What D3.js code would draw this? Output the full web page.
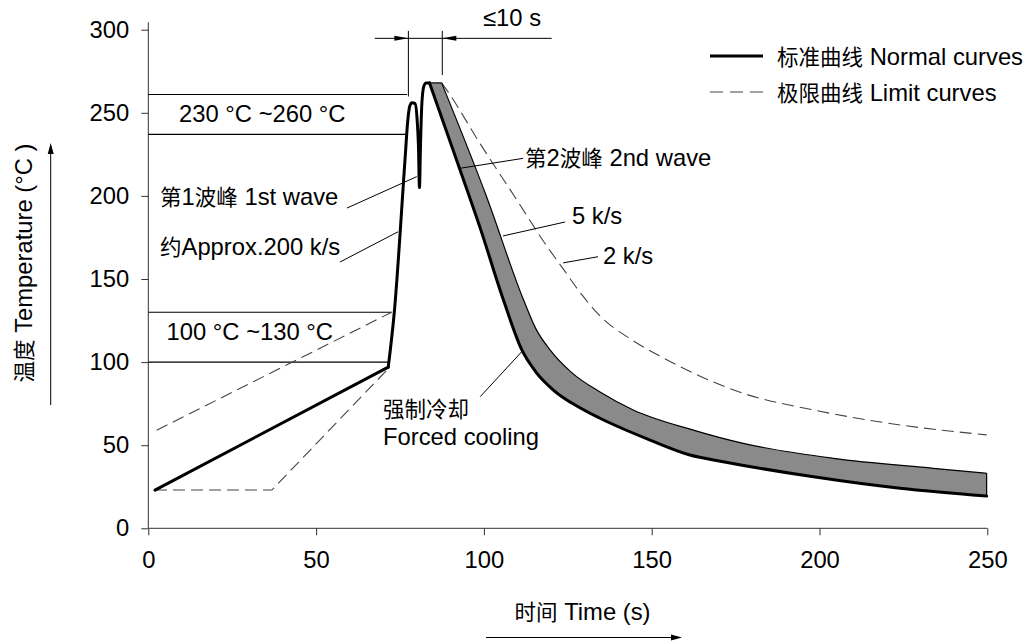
<!DOCTYPE html>
<html><head><meta charset="utf-8">
<script src="https://cdn.jsdelivr.net/npm/d3@7/dist/d3.min.js"></script>
<style>
html,body{margin:0;padding:0;background:#fff;}
svg text{font-family:"Liberation Sans",Arial,"Noto Sans CJK SC",sans-serif;fill:#000;}
</style></head>
<body><svg id="c" width="1035" height="643"></svg>
<script>
// ---- data (time s, temperature °C) ----
const xTicks = [0, 50, 100, 150, 200, 250];
const yTicks = [0, 50, 100, 150, 200, 250, 300];
const normalHeat = [[2, 23], [71.5, 97]];
const normalWave = [[71.5, 97], [73.3, 130], [76.5, 222], [77.3, 245], [77.9, 254], [78.6, 256], [79.5, 255.5],
  [80.1, 246], [80.5, 230], [80.8, 205], [81.1, 230], [81.5, 255], [82.1, 266], [82.8, 268], [83.8, 268]];
const normalCool = [[83.8, 268], [92.9, 215.6], [99, 180], [105.8, 137.5], [111.3, 107.3], [115.5, 94], [120.7, 83.2],
  [128.6, 72.5], [134.6, 66.2], [149.5, 53.1], [161.4, 44.1], [171.3, 40.1], [198.2, 31], [224, 24.1], [249.8, 19.4]];
const band5ks = [[87.4, 268], [100.8, 199.5], [111.8, 137.5], [115.5, 120], [119.7, 107.4], [126, 94], [134.6, 82],
  [144.5, 71.2], [162.4, 59.1], [177.3, 51.1], [204.1, 42.1], [233.9, 36.1], [249.8, 33.1]];
const limitHeatUpper = [[2.5, 59], [72.5, 130]];
const limitHeatLower = [[2, 23], [36.8, 23], [71, 95]];
const limitCool2ks = [[87.4, 268], [88.9, 263.8], [99, 231], [109.8, 197.6], [118, 172], [124, 155], [129, 141],
  [135, 127], [144, 113.5], [153, 103], [164.4, 91.5], [177.3, 81.2], [198.2, 71.2], [224, 62.2], [249.8, 56.2]];
const rangeLines = [[261, 77.1], [237, 77.1], [130, 72.5], [100, 71.5]];
const rangeLabels = ["230 °C ~260 °C", "100 °C ~130 °C"];
const legendLabels = ["标准曲线 Normal curves", "极限曲线 Limit curves"];

// ---- scales ----
const svg = d3.select("#c");
const x = d3.scaleLinear().domain([0, 250]).range([148.3, 987.3]);
const y = d3.scaleLinear().domain([0, 300]).range([528.3, 29.7]);
const FS = 23.8, FSC = 21.5;

const smooth = d3.line().x(d => x(d[0])).y(d => y(d[1])).curve(d3.curveMonotoneX);
const lin = d3.line().x(d => x(d[0])).y(d => y(d[1]));

// band fill
svg.append("path")
  .attr("d", smooth(normalCool) + "L" + x(249.8) + "," + y(33.1) +
    smooth(band5ks.slice().reverse()).replace(/^M/, "L") + "Z")
  .attr("fill", "#8a8a8a").attr("stroke", "none");

// axes
const gx = svg.append("g").attr("transform", `translate(0,${y(0)})`)
  .call(d3.axisBottom(x).tickValues(xTicks).tickSize(7).tickSizeOuter(0).tickPadding(16));
const gy = svg.append("g").attr("transform", `translate(${x(0)},0)`)
  .call(d3.axisLeft(y).tickValues(yTicks).tickSize(7).tickSizeOuter(0).tickPadding(12));
[gx, gy].forEach(g => {
  g.select(".domain").remove();
  g.selectAll("line").attr("stroke", "#333");
  g.selectAll("text").attr("font-size", FS).attr("fill", "#000")
    .style("font-family", '"Liberation Sans",Arial,sans-serif');
});
svg.append("line").attr("x1", x(0)).attr("x2", x(250)).attr("y1", y(0)).attr("y2", y(0)).attr("stroke", "#333");
svg.append("line").attr("x1", x(0)).attr("x2", x(0)).attr("y1", y(0)).attr("y2", y(304.5)).attr("stroke", "#333");

// range lines
svg.selectAll(".rl").data(rangeLines).enter().append("line")
  .attr("x1", x(0)).attr("x2", d => x(d[1])).attr("y1", d => y(d[0])).attr("y2", d => y(d[0]))
  .attr("stroke", "#000").attr("stroke-width", 1.2);

// dashed limit curves
const dash = "12,6";
[[limitHeatUpper, lin], [limitHeatLower, lin], [limitCool2ks, smooth]].forEach(([d, g]) => {
  svg.append("path").attr("d", g(d)).attr("fill", "none").attr("stroke", "#444")
    .attr("stroke-width", 1.1).attr("stroke-dasharray", dash);
});

// band thin edge
svg.append("path").attr("d", smooth(band5ks)).attr("fill", "none").attr("stroke", "#000").attr("stroke-width", 1.2);
svg.append("line").attr("x1", x(249.8)).attr("x2", x(249.8)).attr("y1", y(33.1)).attr("y2", y(19.4))
  .attr("stroke", "#000").attr("stroke-width", 1.2);
svg.append("line").attr("x1", x(83.8)).attr("x2", x(87.4)).attr("y1", y(268)).attr("y2", y(268))
  .attr("stroke", "#000").attr("stroke-width", 1.2);

// normal curves (thick)
[[normalHeat, lin], [normalWave, smooth], [normalCool, smooth]].forEach(([d, g]) => {
  svg.append("path").attr("d", g(d)).attr("fill", "none").attr("stroke", "#000")
    .attr("stroke-width", 3).attr("stroke-linejoin", "round").attr("stroke-linecap", "round");
});

// leader lines (data coords)
const leaders = [
  [[59.2, 192.7], [80.0, 211.6]],
  [[57.1, 160.2], [74.4, 178.4]],
  [[111.7, 222.6], [92.9, 216.6]],
  [[124.2, 184.3], [105.7, 175.9]],
  [[134, 163.4], [123.6, 159.7]],
  [[98.9, 79.2], [111.3, 106.3]]
];
leaders.forEach(l => svg.append("line").attr("x1", x(l[0][0])).attr("y1", y(l[0][1]))
  .attr("x2", x(l[1][0])).attr("y2", y(l[1][1])).attr("stroke", "#000").attr("stroke-width", 1));

// ≤10 s dimension
const dimT = 294.8;
svg.append("line").attr("x1", x(67.5)).attr("x2", x(120.2)).attr("y1", y(dimT)).attr("y2", y(dimT)).attr("stroke", "#000");
svg.append("line").attr("x1", x(77.5)).attr("x2", x(77.5)).attr("y1", y(299.3)).attr("y2", y(259.8)).attr("stroke", "#000");
svg.append("line").attr("x1", x(87.6)).attr("x2", x(87.6)).attr("y1", y(299.3)).attr("y2", y(272.7)).attr("stroke", "#000");
function arrow(tipX, tipY, dir, len, w) {
  svg.append("path").attr("d", `M${tipX},${tipY} L${tipX - dir * len},${tipY - w} L${tipX - dir * len},${tipY + w} Z`)
    .attr("fill", "#000");
}
arrow(x(77.5), y(dimT), 1, 14, 2.5);
arrow(x(87.6), y(dimT), -1, 14, 2.5);

// texts: CJK runs slightly smaller than Latin runs
function fill(t, s) {
  const runs = s.match(/[\u3000-\u9fff]+|[^\u3000-\u9fff]+/g);
  runs.forEach(r => t.append("tspan").attr("font-size", /[\u3000-\u9fff]/.test(r) ? FSC : FS).text(r));
  return t;
}
function txt(s, tx, ty, anchor) {
  const t = svg.append("text").attr("x", tx).attr("y", ty).attr("dy", "0.36em").attr("font-size", FS)
    .attr("text-anchor", anchor || "start");
  return fill(t, s);
}
txt(rangeLabels[0], 179, 113);
txt(rangeLabels[1], 166.5, 331);
txt("第1波峰 1st wave", 160, 196);
txt("约Approx.200 k/s", 160, 246);
txt("第2波峰 2nd wave", 525, 157);
txt("5 k/s", 572, 215);
txt("2 k/s", 603, 255);
txt("强制冷却", 383, 408);
txt("Forced cooling", 383, 436);
txt("≤10 s", 483, 17);

// legend
svg.append("line").attr("x1", 710).attr("x2", 763).attr("y1", 56).attr("y2", 56).attr("stroke", "#000").attr("stroke-width", 3);
svg.append("line").attr("x1", 710).attr("x2", 763).attr("y1", 92).attr("y2", 92).attr("stroke", "#444")
  .attr("stroke-width", 1.1).attr("stroke-dasharray", "13,7");
txt(legendLabels[0], 777, 56);
txt(legendLabels[1], 777, 92);

// axis titles
txt("时间 Time (s)", 582.5, 611, "middle");
svg.append("line").attr("x1", 486).attr("x2", 672).attr("y1", 637.5).attr("y2", 637.5).attr("stroke", "#000");
arrow(682, 637.5, 1, 11, 3);
fill(svg.append("text").attr("transform", "translate(23,263) rotate(-90)").attr("dy", "0.36em")
  .attr("font-size", FS).attr("text-anchor", "middle"), "温度 Temperature (°C )");
svg.append("line").attr("x1", 50.7).attr("x2", 50.7).attr("y1", 405).attr("y2", 153).attr("stroke", "#000");
svg.append("path").attr("d", "M50.7,143 L47.7,154 L53.7,154 Z").attr("fill", "#000");
</script></body></html>
